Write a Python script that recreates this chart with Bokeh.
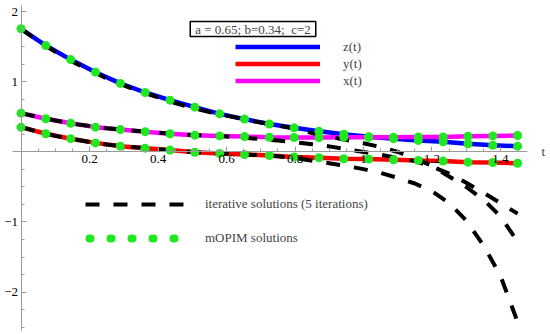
from bokeh.plotting import figure
from bokeh.models import Range1d, LinearAxis, FixedTicker, Label, Legend, LegendItem
from bokeh.embed import file_html
from bokeh.resources import INLINE

# ---------------- data ----------------
t_pts = [0.0, 0.0725, 0.145, 0.2175, 0.29, 0.3625, 0.435, 0.5075, 0.58, 0.6525, 0.725,
         0.7975, 0.87, 0.9425, 1.015, 1.0875, 1.16, 1.2325, 1.305, 1.3775, 1.45]
z_pts = [1.76, 1.52, 1.32, 1.14, 0.98, 0.85, 0.74, 0.64, 0.545, 0.47, 0.40,
         0.345, 0.295, 0.255, 0.217, 0.19, 0.165, 0.145, 0.117, 0.097, 0.083]
y_pts = [0.355, 0.26, 0.19, 0.13, 0.083, 0.055, 0.027, -0.003, -0.02, -0.035, -0.05,
         -0.07, -0.083, -0.097, -0.10, -0.11, -0.12, -0.13, -0.145, -0.15, -0.16]
x_pts = [0.555, 0.475, 0.41, 0.355, 0.32, 0.29, 0.26, 0.24, 0.23, 0.22, 0.21,
         0.207, 0.207, 0.21, 0.21, 0.21, 0.215, 0.215, 0.225, 0.23, 0.235]

t_iter = [0.0, 0.05, 0.1, 0.15, 0.2, 0.25, 0.3, 0.35, 0.4, 0.45, 0.5, 0.55, 0.6, 0.65, 0.7,
          0.75, 0.8, 0.85, 0.9, 0.95, 1.0, 1.05, 1.1, 1.15, 1.2, 1.25, 1.3, 1.35, 1.4, 1.45]
z_iter = [1.76, 1.59, 1.43, 1.29, 1.17, 1.05, 0.95, 0.86, 0.78, 0.70, 0.63, 0.57, 0.52, 0.47, 0.42,
          0.38, 0.33, 0.27, 0.22, 0.17, 0.125, 0.07, 0.0, -0.09, -0.2, -0.35, -0.5, -0.68, -0.92, -1.28]
y_iter = [0.355, 0.29, 0.23, 0.185, 0.143, 0.108, 0.08, 0.06, 0.04, 0.02, 0.0, -0.013, -0.025, -0.035, -0.045,
          -0.06, -0.085, -0.125, -0.16, -0.2, -0.245, -0.3, -0.37, -0.45, -0.56, -0.73, -0.98, -1.33, -1.77, -2.43]
x_iter = [0.555, 0.50, 0.45, 0.405, 0.37, 0.34, 0.315, 0.295, 0.275, 0.256, 0.243, 0.233, 0.22, 0.205, 0.185,
          0.163, 0.14, 0.11, 0.08, 0.04, 0.0, -0.04, -0.085, -0.13, -0.21, -0.31, -0.44, -0.58, -0.73, -0.88]

x_ticks = [0.2, 0.4, 0.6, 0.8, 1.0, 1.2, 1.4]
y_ticks = [-2, -1, 1, 2]
y_tick_labels = {-2: "\u22122", -1: "\u22121", 1: "1", 2: "2"}
param_text = "a = 0.65; b=0.34;\u00a0 c=2"

# ---------------- styles ----------------
FONT = "Liberation Serif"
GREEN = "#1fe81f"
AXIS_COLOR = "#9a9a9a"
DASH = "14 14"
W, H = 550, 334

p = figure(width=W, height=H, x_range=Range1d(-0.0599, 1.546), y_range=Range1d(-2.607, 2.164),
           output_backend="svg", toolbar_location=None, min_border=0,
           x_axis_type=None, y_axis_type=None)
p.outline_line_color = None
p.background_fill_color = "white"

xminor = [round(0.05 * i, 2) for i in range(0, 30)]
yminor = [round(-2.5 + 0.25 * i, 2) for i in range(0, 19)]

xaxis = LinearAxis(fixed_location=0, bounds=(-0.025, 1.48),
                   ticker=FixedTicker(ticks=x_ticks, minor_ticks=xminor))
yaxis = LinearAxis(fixed_location=0, bounds=(-2.55, 2.09),
                   ticker=FixedTicker(ticks=y_ticks, minor_ticks=yminor))
yaxis.major_label_overrides = y_tick_labels
for ax in (xaxis, yaxis):
    ax.axis_line_color = AXIS_COLOR
    ax.axis_line_width = 1
    ax.major_tick_line_color = AXIS_COLOR
    ax.minor_tick_line_color = AXIS_COLOR
    ax.major_tick_in = 5
    ax.major_tick_out = 0
    ax.minor_tick_in = 3
    ax.minor_tick_out = 0
    ax.major_label_text_font = FONT
    ax.major_label_text_font_size = "13px"
    ax.major_label_text_color = "black"
    ax.major_label_standoff = 3
p.add_layout(xaxis, "below")
p.add_layout(yaxis, "left")

# exact solution lines
r_z = p.line(t_pts, z_pts, line_color="#0000ff", line_width=4.5)
r_y = p.line(t_pts, y_pts, line_color="#ff0000", line_width=4.5)
r_x = p.line(t_pts, x_pts, line_color="#ff00ff", line_width=4.5)

# iterative solutions (dashed)
r_iz = p.line(t_iter, z_iter, line_color="black", line_width=4, line_dash=DASH)
p.line(t_iter, y_iter, line_color="black", line_width=4, line_dash=DASH)
p.line(t_iter, x_iter, line_color="black", line_width=4, line_dash=DASH)

# mOPIM points
for arr in (z_pts, y_pts, x_pts):
    p.scatter(t_pts, arr, size=9, fill_color=GREEN, line_color=GREEN, line_width=0)

# legend-only renderer: dotted green line (no visible data)
nan = float("nan")
r_dots = p.line([nan, nan], [nan, nan], line_color=GREEN, line_width=8, line_dash="1 20",
                line_dash_offset=-4, line_cap="round")

leg1 = Legend(items=[LegendItem(label="z(t)", renderers=[r_z]),
                     LegendItem(label="y(t)", renderers=[r_y]),
                     LegendItem(label="x(t)", renderers=[r_x])],
              location=(235, 245), glyph_width=85, glyph_height=17, label_height=17,
              label_standoff=23, spacing=0, padding=0, margin=0,
              border_line_color=None, background_fill_alpha=0,
              label_text_font=FONT, label_text_font_size="13px")
leg2 = Legend(items=[LegendItem(label="iterative solutions (5 iterations)", renderers=[r_iz]),
                     LegendItem(label="mOPIM solutions", renderers=[r_dots])],
              location=(85, 86), glyph_width=100, glyph_height=20, label_height=20,
              label_standoff=20, spacing=14, padding=0, margin=0,
              border_line_color=None, background_fill_alpha=0,
              label_text_font=FONT, label_text_font_size="13px")
p.add_layout(leg1)
p.add_layout(leg2)

p.add_layout(Label(x=252.5, y=305.5, x_units="screen", y_units="screen", text=param_text,
                   text_align="center", text_baseline="middle", text_font=FONT,
                   text_font_size="13px", border_line_color="black", border_line_width=1.5,
                   background_fill_color="white", padding=(5, 0)))
p.add_layout(Label(x=1.525, y=0, text="t", text_align="center", text_baseline="middle",
                   text_font=FONT, text_font_size="13px"))

open("out.html", "w").write(file_html(p, INLINE))
